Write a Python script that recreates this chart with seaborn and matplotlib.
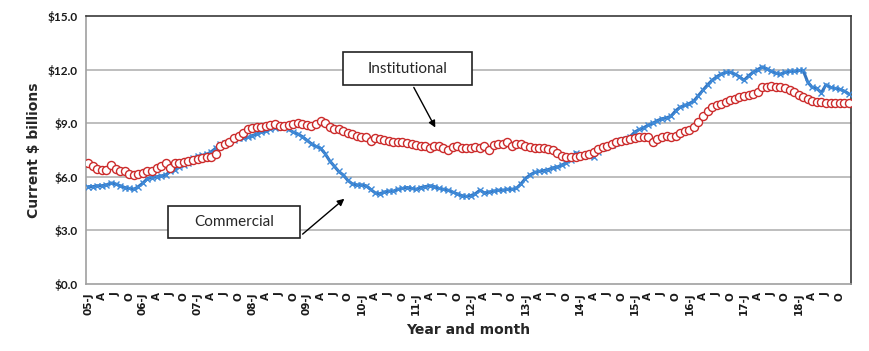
import numpy as np
import pandas as pd
import matplotlib
matplotlib.use("Agg")
import matplotlib.pyplot as plt
from matplotlib.patches import Rectangle
import seaborn as sns

years = list(range(2005, 2019))
month_letters = ["J", "A", "J", "O"]

commercial = [
    5.45, 5.45, 5.50, 5.50, 5.55, 5.65, 5.60, 5.50, 5.40, 5.35, 5.30, 5.45,
    5.65, 5.90, 5.95, 6.00, 6.05, 6.10, 6.30, 6.40, 6.55, 6.65, 6.75, 7.05,
    7.15, 7.20, 7.25, 7.40, 7.60, 7.85, 7.90, 7.95, 8.05, 8.15, 8.15, 8.20,
    8.30, 8.40, 8.50, 8.55, 8.70, 8.75, 8.80, 8.90, 8.65, 8.50, 8.40, 8.25,
    8.05, 7.85, 7.70, 7.60, 7.30, 6.90, 6.60, 6.30, 6.10, 5.80, 5.60, 5.55,
    5.55, 5.50, 5.30, 5.10, 5.05, 5.15, 5.20, 5.20, 5.30, 5.35, 5.40, 5.35,
    5.30, 5.40, 5.45, 5.50, 5.45, 5.35, 5.30, 5.25, 5.15, 5.05, 4.95, 4.90,
    4.95, 5.05, 5.25, 5.10, 5.15, 5.20, 5.25, 5.25, 5.30, 5.30, 5.35, 5.60,
    5.90, 6.10, 6.25, 6.30, 6.35, 6.40, 6.50, 6.55, 6.65, 6.80, 6.95, 7.35,
    7.20, 7.20, 7.15, 7.10, 7.40, 7.60, 7.70, 7.80, 7.90, 8.05, 8.10, 8.25,
    8.50, 8.65, 8.75, 8.90, 9.00, 9.15, 9.25, 9.30, 9.40, 9.70, 9.90, 10.00,
    10.10, 10.25, 10.55, 10.85, 11.15, 11.40, 11.60, 11.75, 11.85, 11.85, 11.75, 11.60,
    11.40, 11.65, 11.85, 12.00, 12.15, 12.05, 11.90, 11.80, 11.75, 11.85, 11.90, 11.90,
    11.95, 11.95, 11.30, 11.00, 10.95, 10.70, 11.15, 11.00, 10.95, 10.90, 10.80, 10.65,
]

institutional = [
    6.80, 6.60, 6.45, 6.40, 6.40, 6.65, 6.45, 6.35, 6.30, 6.15, 6.10, 6.15,
    6.20, 6.30, 6.35, 6.50, 6.60, 6.75, 6.50, 6.75, 6.80, 6.85, 6.90, 6.95,
    7.00, 7.05, 7.10, 7.10, 7.30, 7.70, 7.85, 7.95, 8.15, 8.30, 8.45, 8.65,
    8.75, 8.80, 8.80, 8.85, 8.90, 8.95, 8.85, 8.85, 8.90, 8.95, 9.00, 8.95,
    8.90, 8.85, 8.95, 9.10, 9.00, 8.80, 8.70, 8.65, 8.55, 8.45, 8.40, 8.30,
    8.25, 8.20, 8.00, 8.15, 8.10, 8.05, 8.00, 7.95, 7.95, 7.95, 7.90, 7.85,
    7.80, 7.75, 7.70, 7.60, 7.70, 7.75, 7.60, 7.50, 7.65, 7.75, 7.60, 7.60,
    7.60, 7.65, 7.60, 7.70, 7.50, 7.80, 7.85, 7.85, 7.95, 7.70, 7.85, 7.85,
    7.70, 7.65, 7.60, 7.60, 7.60, 7.55, 7.50, 7.35, 7.15, 7.10, 7.10, 7.10,
    7.15, 7.20, 7.30, 7.40, 7.55, 7.65, 7.75, 7.85, 7.95, 8.00, 8.05, 8.10,
    8.15, 8.20, 8.25, 8.20, 7.95, 8.10, 8.25, 8.30, 8.25, 8.30, 8.45, 8.55,
    8.60, 8.80, 9.05, 9.40, 9.70, 9.90, 10.00, 10.10, 10.20, 10.30, 10.35, 10.45,
    10.50, 10.60, 10.65, 10.75, 11.00, 11.05, 11.10, 11.05, 11.05, 10.95, 10.85, 10.75,
    10.60, 10.45, 10.35, 10.25, 10.20, 10.20, 10.15, 10.15, 10.15, 10.15, 10.15, 10.15,
]

y_ticks = [0, 3, 6, 9, 12, 15]
y_tick_labels = ["$0.0", "$3.0", "$6.0", "$9.0", "$12.0", "$15.0"]

n = len(commercial)
tick_labels = []
for y in years:
    for k, m in enumerate(month_letters):
        tick_labels.append(f"{str(y)[2:]}-{m}" if k == 0 else m)

df = pd.DataFrame({"idx": np.arange(n), "Commercial": commercial,
                   "Institutional": institutional})

sns.set_style("white")
plt.rcParams["font.family"] = ["Lato", "DejaVu Sans"]

fig = plt.figure(figsize=(8.7, 3.51), dpi=100)
ax = fig.add_axes([86 / 870, 1 - 284 / 351, (851 - 86) / 870, (284 - 16) / 351])

for yv in [3, 6, 9, 12]:
    ax.axhline(yv, color="#b3b3b3", lw=1.2, zorder=0)

sns.lineplot(data=df, x="idx", y="Commercial", ax=ax, color="#3575c0",
             lw=2.2, marker="x", markersize=4.5, markeredgewidth=1.0,
             markeredgecolor="#3f8ad8", zorder=3)
sns.lineplot(data=df, x="idx", y="Institutional", ax=ax, color="#cc2b2b",
             lw=0, marker="o", markersize=5.8, markerfacecolor="white",
             markeredgewidth=1.0, markeredgecolor="#cc2b2b", zorder=4)

ax.set_xlim(-0.5, n - 0.5)
ax.set_ylim(0, 15)
ax.set_yticks(y_ticks)
ax.set_yticklabels(y_tick_labels, fontsize=8.5, fontweight="bold", color="#1a1a1a")
ax.set_xticks(np.arange(0, n, 3))
ax.set_xticklabels(tick_labels[: len(np.arange(0, n, 3))], rotation=90,
                   fontsize=7.5, fontweight="bold", color="#1a1a1a",
                   family=["DejaVu Sans"])
ax.set_xticks(np.arange(n) - 0.5, minor=True)
ax.tick_params(axis="x", which="both", length=3, color="#a0a0a0", width=0.8,
               direction="out", pad=3)
ax.tick_params(axis="y", length=0, pad=6)

for side in ["top", "right"]:
    ax.spines[side].set_color("#3a3a3a")
    ax.spines[side].set_linewidth(1.2)
for side in ["left", "bottom"]:
    ax.spines[side].set_color("#a0a0a0")
    ax.spines[side].set_linewidth(1.2)

ax.set_xlabel("Year and month", fontsize=10, fontweight="bold", labelpad=6,
              family=["DejaVu Sans"])
ax.set_ylabel("Current $ billions", fontsize=10, fontweight="bold", labelpad=5,
              family=["DejaVu Sans"])

# annotation boxes
ax.add_patch(Rectangle((56.0, 11.14), 28.2, 1.84, fill=True, facecolor="white",
                       edgecolor="#222222", lw=1.2, zorder=6, clip_on=False))
ax.text(70.1, 12.06, "Institutional", ha="center", va="center", fontsize=11,
        zorder=7)
ax.annotate("", xy=(76.5, 8.62), xytext=(71.2, 11.14),
            arrowprops=dict(arrowstyle="-|>", color="black", lw=1.0,
                            mutation_scale=10), zorder=6)

ax.add_patch(Rectangle((17.4, 2.57), 29.2, 1.79, fill=True, facecolor="white",
                       edgecolor="#222222", lw=1.2, zorder=6, clip_on=False))
ax.text(32.0, 3.47, "Commercial", ha="center", va="center", fontsize=11,
        zorder=7)
ax.annotate("", xy=(56.7, 4.87), xytext=(46.6, 2.69),
            arrowprops=dict(arrowstyle="-|>", color="black", lw=1.0,
                            mutation_scale=10), zorder=6)

fig.savefig("out.png", dpi=100)
